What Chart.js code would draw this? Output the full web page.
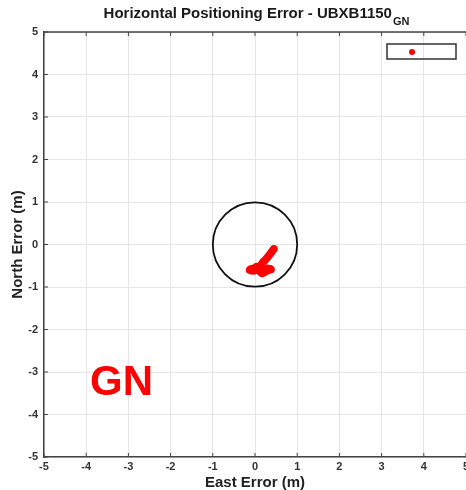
<!DOCTYPE html>
<html>
<head>
<meta charset="utf-8">
<script src="https://cdn.jsdelivr.net/npm/chart.js@4"></script>
<style>
  html, body { margin: 0; padding: 0; background: #fff; overflow: hidden; }
  canvas { display: block; }
</style>
</head>
<body>
<canvas id="myChart" width="470" height="490"></canvas>
<script>
// data (metres)
const chartTitle = 'Horizontal Positioning Error - UBXB1150'
const titleSub = 'GN'
const xLabel = 'East Error (m)'
const yLabel = 'North Error (m)'
const markText = 'GN'
const axisMin = -5
const axisMax = 5
const circleRadius = 1

const eastErr = [0.45, 0.42, 0.39, 0.36, 0.33, 0.30, 0.27, 0.24, 0.20, 0.17,
  0.15, 0.12, 0.08, 0.02, -0.04, -0.10, -0.13, -0.08, 0.00, 0.06,
  0.12, 0.18, 0.24, 0.30, 0.36, 0.38, 0.30, 0.22, 0.17, 0.12, 0.04, -0.02]
const northErr = [-0.10, -0.14, -0.18, -0.22, -0.26, -0.30, -0.33, -0.37, -0.40, -0.44,
  -0.48, -0.52, -0.55, -0.56, -0.56, -0.58, -0.60, -0.62, -0.60, -0.60,
  -0.58, -0.57, -0.56, -0.56, -0.57, -0.59, -0.62, -0.66, -0.68, -0.64, -0.52, -0.62]

const points = eastErr.map((e, i) => ({ x: e, y: northErr[i] }))
const FONT = 'Liberation Sans, Arial, sans-serif'

// title with subscript, legend box, big label, inward ticks
const extras = {
  id: 'extras',
  beforeDatasetsDraw(chart) {
    const { ctx, chartArea: a, scales: { x, y } } = chart
    ctx.save()
    ctx.strokeStyle = '#444'
    ctx.lineWidth = 1.5
    ctx.beginPath()
    ctx.moveTo(a.left, a.top); ctx.lineTo(a.right, a.top)
    ctx.stroke()
    ctx.lineWidth = 1
    ctx.beginPath()
    for (let v = axisMin; v <= axisMax; v++) {
      const px = x.getPixelForValue(v)
      ctx.moveTo(px, a.top); ctx.lineTo(px, a.top + 4)
      ctx.moveTo(px, a.bottom); ctx.lineTo(px, a.bottom - 4)
      const py = y.getPixelForValue(v)
      ctx.moveTo(a.left, py); ctx.lineTo(a.left + 4, py)
    }
    ctx.stroke()
    ctx.restore()
  },
  afterDraw(chart) {
    const { ctx, scales: { x, y } } = chart
    ctx.save()
    // title
    ctx.fillStyle = '#1a1a1a'
    ctx.font = 'bold 15px ' + FONT
    const w1 = ctx.measureText(chartTitle).width
    ctx.font = 'bold 11px ' + FONT
    const w2 = ctx.measureText(titleSub).width
    let tx = 256 - (w1 + w2) / 2
    ctx.textBaseline = 'alphabetic'
    ctx.font = 'bold 15px ' + FONT
    ctx.fillText(chartTitle, tx, 18)
    ctx.font = 'bold 11px ' + FONT
    ctx.fillText(titleSub, tx + w1 + 1, 25)

    // legend box
    ctx.strokeStyle = '#333'
    ctx.lineWidth = 1.5
    ctx.strokeRect(387, 44, 69, 15)
    ctx.fillStyle = '#ff0000'
    ctx.beginPath()
    ctx.arc(412, 52, 3, 0, Math.PI * 2)
    ctx.fill()

    // big label
    ctx.font = 'bold 42px ' + FONT
    ctx.fillText(markText, x.getPixelForValue(-3.91), y.getPixelForValue(-3.53))
    ctx.restore()
  }
}

const graphArea = document.getElementById('myChart').getContext('2d')
const myChart = new Chart(graphArea, {
  type: 'scatter',
  data: {
    datasets: [{
      label: 'circle',
      data: [{ x: 0, y: 0 }],
      pointRadius: (c) => {
        const sx = c.chart.scales.x
        if (!sx) return 40
        return sx.getPixelForValue(circleRadius) - sx.getPixelForValue(0)
      },
      pointStyle: 'circle',
      backgroundColor: 'rgba(0,0,0,0)',
      borderColor: '#111',
      borderWidth: 1.8
    }, {
      label: 'errors',
      data: points,
      pointRadius: 3.8,
      pointStyle: 'circle',
      backgroundColor: '#ff0000',
      borderWidth: 0
    }]
  },
  options: {
    responsive: false,
    animation: false,
    events: [],
    layout: { padding: { top: 32, right: 0, left: 0, bottom: 0 } },
    plugins: { legend: { display: false }, tooltip: { enabled: false } },
    scales: {
      x: {
        type: 'linear', min: axisMin, max: axisMax,
        afterFit(s) { s.height = 33; s.paddingLeft = 0; s.paddingRight = 0 },
        ticks: { stepSize: 1, maxRotation: 0, padding: 3, color: '#333', font: { family: FONT, size: 11, weight: 'bold' } },
        grid: { color: '#e6e6e6', drawTicks: false },
        border: { color: '#444', width: 1.5 },
        title: { display: true, text: xLabel, color: '#222', font: { family: FONT, size: 15, weight: 'bold', lineHeight: 1 }, padding: { top: 0, bottom: 0 } }
      },
      y: {
        type: 'linear', min: axisMin, max: axisMax,
        afterFit(s) { s.width = 44; s.paddingTop = 0; s.paddingBottom = 0 },
        ticks: { stepSize: 1, padding: 6, color: '#333', font: { family: FONT, size: 11, weight: 'bold' } },
        grid: { color: '#e6e6e6', drawTicks: false },
        border: { color: '#444', width: 1.5 },
        title: { display: true, text: yLabel, color: '#222', font: { family: FONT, size: 15, weight: 'bold', lineHeight: 1 }, padding: { top: 10, bottom: 0 } }
      }
    }
  },
  plugins: [extras]
})
</script>
</body>
</html>
